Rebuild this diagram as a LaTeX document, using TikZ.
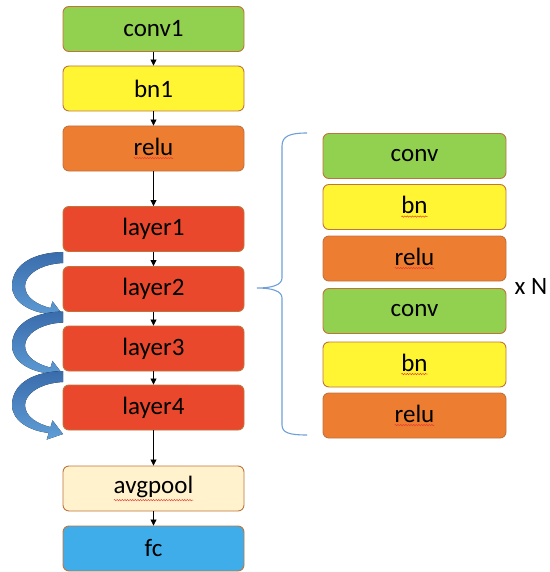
\documentclass[tikz,border=0pt]{standalone}
\usepackage{fontspec}
\setmainfont{Carlito}
\usetikzlibrary{arrows.meta,decorations.pathmorphing}
\definecolor{cgreen}{RGB}{146,208,80}
\definecolor{cyellow}{RGB}{255,245,50}
\definecolor{corange}{RGB}{237,125,49}
\definecolor{cred}{RGB}{234,72,45}
\definecolor{cpool}{RGB}{255,242,204}
\definecolor{cfc}{RGB}{64,173,235}
\definecolor{cborder}{RGB}{192,116,60}
\definecolor{cbrace}{RGB}{110,160,215}
\definecolor{cblueA}{RGB}{58,108,172}
\definecolor{cblueB}{RGB}{95,158,215}
\definecolor{cwave}{RGB}{235,60,50}
\newcommand\wv[1]{\tikz[baseline=(t.base),x=1pt,y=1pt,sharp corners]{\node[inner sep=0pt,outer sep=0pt,draw=none,fill=none,minimum size=0pt](t){#1};\draw[cwave,line width=0.45pt,sharp corners,decorate,decoration={snake,amplitude=0.7pt,segment length=2.6pt}]([yshift=-2.5pt]t.south west)--([yshift=-2.5pt]t.south east);}}
\tikzset{
  blk/.style={draw=cborder,line width=0.9pt,rounded corners=6pt,minimum width=181pt,minimum height=45pt,inner sep=0pt,font=\fontsize{25}{29}\selectfont,text=black},
  conn/.style={draw=black,line width=0.8pt,-{Triangle[length=6pt,width=6pt]}},
  curv/.style={top color=cblueA,bottom color=cblueB,draw=none},
}
\begin{document}
\begin{tikzpicture}[x=1pt,y=-1pt]
\useasboundingbox (0,0) rectangle (549,572);
% left column
\node[blk,fill=cgreen]  (conv1) at (153.5,29) {conv1};
\node[blk,fill=cyellow] (bn1) at (153.5,88.5) {bn1};
\node[blk,fill=corange] (relu) at (153.5,148.5) {\wv{relu}};
\node[blk,fill=cred]    (layer1) at (153.5,229) {layer1};
\node[blk,fill=cred]    (layer2) at (153.5,289) {layer2};
\node[blk,fill=cred]    (layer3) at (153.5,348.5) {layer3};
\node[blk,fill=cred]    (layer4) at (153.5,407.5) {layer4};
\node[blk,fill=cpool]   (avgpool) at (153.5,488.5) {\wv{avgpool}};
\node[blk,fill=cfc]     (fc) at (153.5,548.5) {fc};
\draw[conn] (conv1) -- (bn1);
\draw[conn] (bn1) -- (relu);
\draw[conn] (relu) -- (layer1);
\draw[conn] (layer1) -- (layer2);
\draw[conn] (layer2) -- (layer3);
\draw[conn] (layer3) -- (layer4);
\draw[conn] (layer4) -- (avgpool);
\draw[conn] (avgpool) -- (fc);
% right column
\node[blk,fill=cgreen,minimum width=183pt]  (rc1) at (414.5,156) {conv};
\node[blk,fill=cyellow,minimum width=183pt] (rb1) at (414.5,207) {\wv{bn}};
\node[blk,fill=corange,minimum width=183pt] (rr1) at (414.5,258.5) {\wv{relu}};
\node[blk,fill=cgreen,minimum width=183pt]  (rc2) at (414.5,311) {conv};
\node[blk,fill=cyellow,minimum width=183pt] (rb2) at (414.5,364.5) {\wv{bn}};
\node[blk,fill=corange,minimum width=183pt] (rr2) at (414.5,415.5) {\wv{relu}};
% brace
\draw[cbrace,line width=1.1pt] (307,133) .. controls (290,133) and (282,136) .. (282,146) -- (282,278) .. controls (282,285) and (272,288) .. (257,288) .. controls (272,288) and (282,291) .. (282,298) -- (282,425) .. controls (282,433) and (290,435) .. (307,435);
\node[font=\fontsize{25}{29}\selectfont,anchor=base,inner sep=0pt] (xn) at (531,294) {x N};
% curved arrows
\foreach \s in {0,59.5,119} {
  \begin{scope}[shift={(0,252+\s)}]
  \fill[curv] (63,0) .. controls (25,1) and (12,18) .. (12,34) .. controls (12,50) and (30,60) .. (48.7,61.9)
    -- (46.7,68.6) -- (63,63) -- (52.5,49.4) -- (50.5,56.1)
    .. controls (38,53) and (25,46) .. (25,34) .. controls (25,23) and (40,12) .. (63,11) -- cycle;
  \end{scope}
}
\end{tikzpicture}
\end{document}
